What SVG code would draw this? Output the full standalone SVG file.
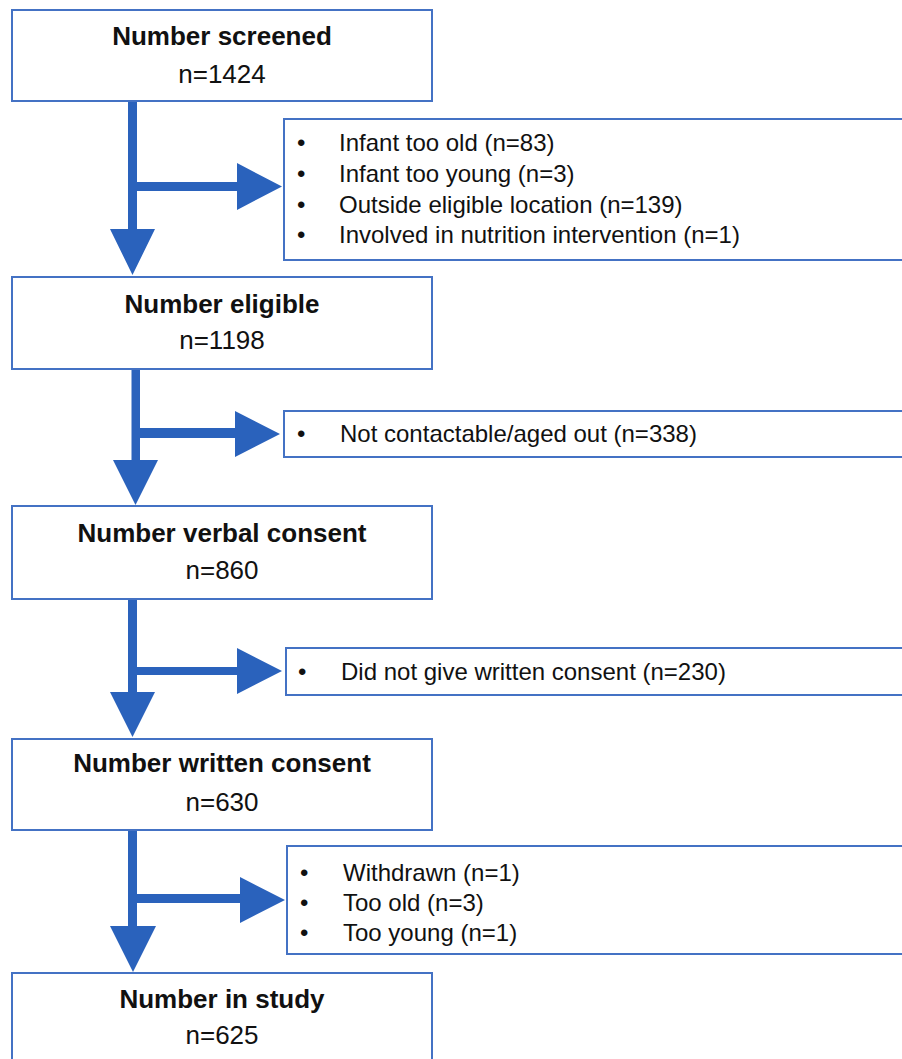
<svg xmlns="http://www.w3.org/2000/svg" width="902" height="1059" viewBox="0 0 902 1059">
<style>
.box{fill:#fff;stroke:#4472C4;stroke-width:2}
.arrow{fill:#2A62BC;stroke:none}
.title{font-family:"Liberation Sans",Arial,sans-serif;font-size:26px;font-weight:bold;fill:#111;text-anchor:middle}
.num{font-family:"Liberation Sans",Arial,sans-serif;font-size:26px;fill:#111;text-anchor:middle}
.item{font-family:"Liberation Sans",Arial,sans-serif;font-size:24px;fill:#111}
</style>
<rect width="902" height="1059" fill="#fff"/>
<g id="connectors">
<path class="arrow" d="M128,101 H137 V182 H237 V163 L282,186.5 L237,210 V191 H137 V229 H155 L132.5,275 L110,229 H128 Z"/>
<path class="arrow" d="M131.5,369 H140 V428 H235 V411 L280,434 L235,457 V438 H140 V460 H158 L135.5,505 L113,460 H131.5 Z"/>
<path class="arrow" d="M128,599 H137 V667 H237 V648 L282,671 L237,694 V675 H137 V692 H155 L132.5,737 L110,692 H128 Z"/>
<path class="arrow" d="M128,830 H137 V894 H240 V877 L285,900 L240,923 V903 H137 V926 H156 L133,972 L110,926 H128 Z"/>
</g>
<g id="screened">
<rect class="box" x="12" y="10" width="420" height="91"/>
<text class="title" x="222" y="45">Number screened</text>
<text class="num" x="222" y="83">n=1424</text>
</g>
<g id="excl1">
<rect class="box" x="284" y="119" width="630" height="141"/>
<text class="item" x="297" y="151">•</text><text class="item" x="339" y="151">Infant too old (n=83)</text>
<text class="item" x="297" y="182">•</text><text class="item" x="339" y="182">Infant too young (n=3)</text>
<text class="item" x="297" y="213">•</text><text class="item" x="339" y="213">Outside eligible location (n=139)</text>
<text class="item" x="297" y="243">•</text><text class="item" x="339" y="243">Involved in nutrition intervention (n=1)</text>
</g>
<g id="eligible">
<rect class="box" x="12" y="277" width="420" height="92"/>
<text class="title" x="222" y="313">Number eligible</text>
<text class="num" x="222" y="349">n=1198</text>
</g>
<g id="excl2">
<rect class="box" x="284" y="411" width="630" height="46"/>
<text class="item" x="297" y="442">•</text><text class="item" x="340" y="442">Not contactable/aged out (n=338)</text>
</g>
<g id="verbal">
<rect class="box" x="12" y="506" width="420" height="93"/>
<text class="title" x="222" y="542">Number verbal consent</text>
<text class="num" x="222" y="579">n=860</text>
</g>
<g id="excl3">
<rect class="box" x="286" y="648" width="630" height="47"/>
<text class="item" x="298" y="680">•</text><text class="item" x="341" y="680">Did not give written consent (n=230)</text>
</g>
<g id="written">
<rect class="box" x="12" y="739" width="420" height="91"/>
<text class="title" x="222" y="772">Number written consent</text>
<text class="num" x="222" y="811">n=630</text>
</g>
<g id="excl4">
<rect class="box" x="287" y="846" width="630" height="108"/>
<text class="item" x="300" y="881">•</text><text class="item" x="343" y="881">Withdrawn (n=1)</text>
<text class="item" x="300" y="911">•</text><text class="item" x="343" y="911">Too old (n=3)</text>
<text class="item" x="300" y="941">•</text><text class="item" x="343" y="941">Too young (n=1)</text>
</g>
<g id="study">
<rect class="box" x="12" y="973" width="420" height="92"/>
<text class="title" x="222" y="1008">Number in study</text>
<text class="num" x="222" y="1044">n=625</text>
</g>
</svg>
